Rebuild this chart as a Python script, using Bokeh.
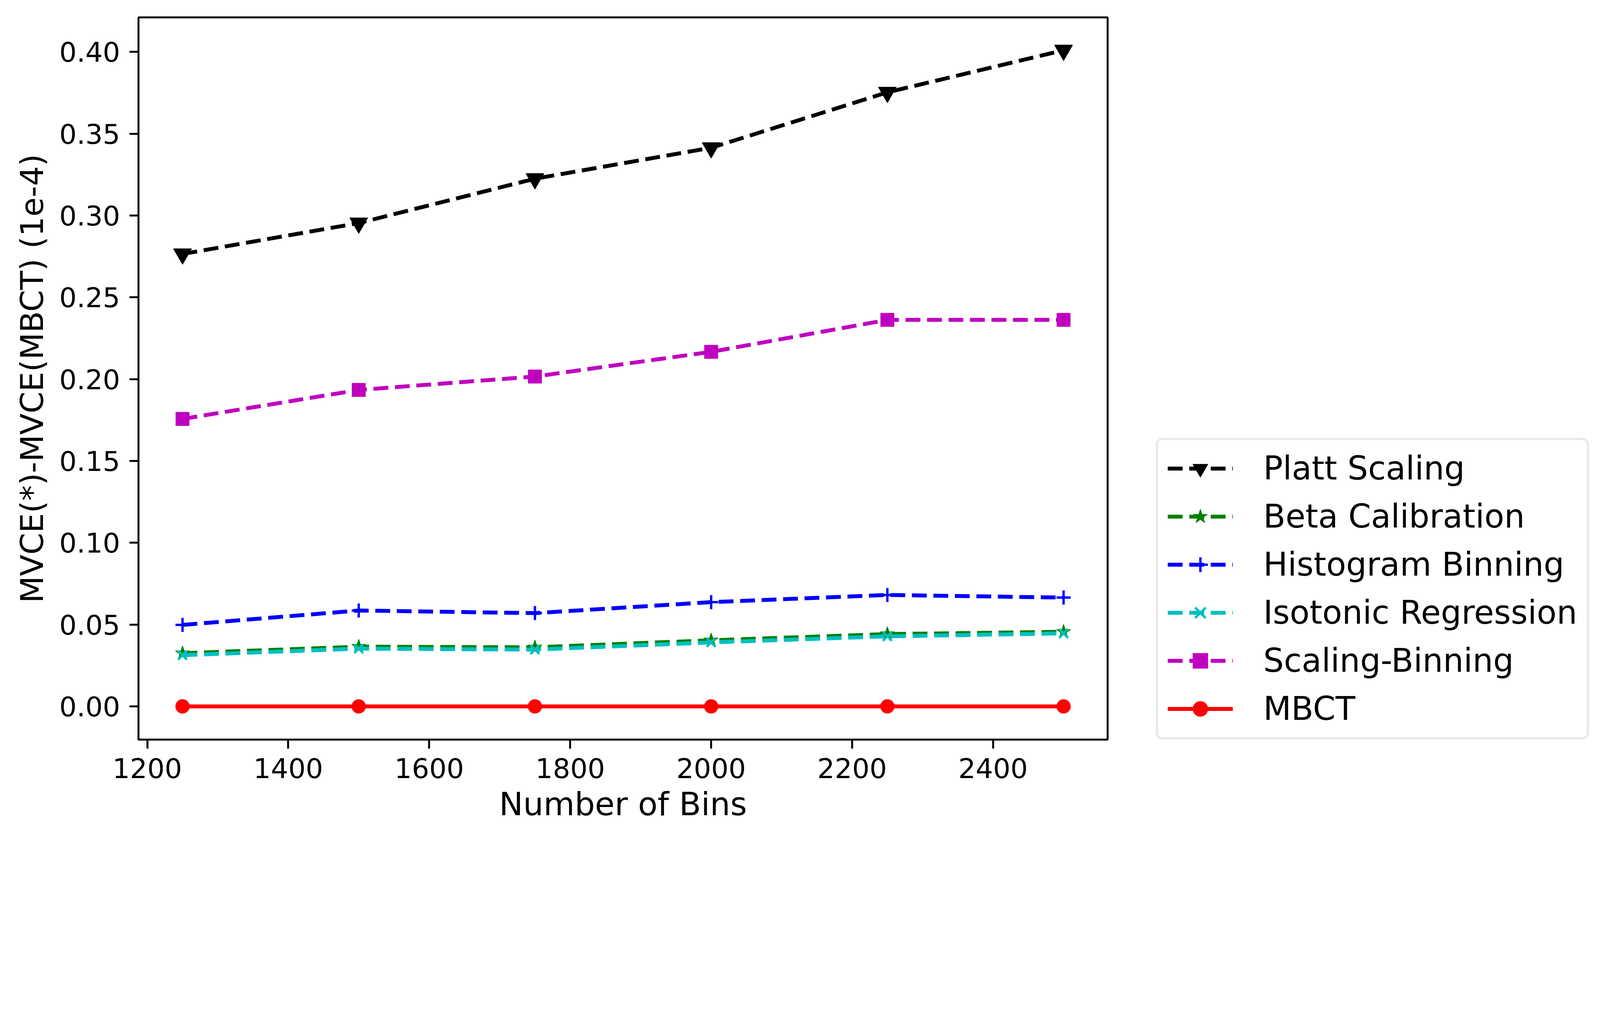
from bokeh.plotting import figure
from bokeh.models import Range1d, FixedTicker, NumeralTickFormatter, Legend, LegendItem
from bokeh.embed import file_html
from bokeh.resources import INLINE

bins = [1250, 1500, 1750, 2000, 2250, 2500]
platt = [0.2765, 0.2954, 0.3225, 0.3414, 0.3753, 0.4010]
beta = [0.0325, 0.0365, 0.0361, 0.0404, 0.0442, 0.0456]
histogram = [0.0498, 0.0586, 0.0570, 0.0637, 0.0681, 0.0665]
isotonic = [0.0313, 0.0353, 0.0347, 0.0391, 0.0428, 0.0446]
scaling_binning = [0.1757, 0.1934, 0.2016, 0.2167, 0.2362, 0.2362]
mbct = [0.0, 0.0, 0.0, 0.0, 0.0, 0.0]

x_ticks = [1200, 1400, 1600, 1800, 2000, 2200, 2400]
y_ticks = [0.0, 0.05, 0.10, 0.15, 0.20, 0.25, 0.30, 0.35, 0.40]

FONT = "DejaVu Sans"

FRAME_L, FRAME_T, FRAME_W, FRAME_H = 354, 44, 2481, 1848
FIG_W, FIG_H = 4111, 2159

p = figure(width=FIG_W, height=FIG_H, output_backend="svg", toolbar_location=None,
           x_range=Range1d(1187.5, 2562.5), y_range=Range1d(-0.0203, 0.4211),
           frame_width=FRAME_W, frame_height=FRAME_H,
           min_border_left=FRAME_L, min_border_top=FRAME_T,
           min_border_right=FIG_W - FRAME_L - FRAME_W,
           min_border_bottom=FIG_H - FRAME_T - FRAME_H)

p.xgrid.visible = False
p.ygrid.visible = False
p.outline_line_color = "black"
p.outline_line_width = 5

for ax in (p.xaxis[0], p.yaxis[0]):
    ax.axis_line_width = 5
    ax.major_tick_line_width = 5
    ax.major_tick_out = 23
    ax.major_tick_in = 0
    ax.minor_tick_line_color = None
    ax.major_label_text_font = FONT
    ax.major_label_text_font_size = "70px"
    ax.major_label_text_color = "black"
    ax.axis_label_text_font = FONT
    ax.axis_label_text_font_style = "normal"
    ax.axis_label_text_color = "black"
    ax.major_label_standoff = 24

p.xaxis.axis_label_text_font_size = "82px"
p.yaxis.axis_label_text_font_size = "80px"
p.xaxis.ticker = FixedTicker(ticks=x_ticks)
p.yaxis.ticker = FixedTicker(ticks=y_ticks)
p.yaxis.formatter = NumeralTickFormatter(format="0.00")
p.xaxis.axis_label = "Number of Bins"
p.yaxis.axis_label = "MVCE(*)-MVCE(MBCT) (1e-4)"
p.xaxis.axis_label_standoff = 16
p.yaxis.axis_label_standoff = 20

DASH = "38 17"
LW = 10

series = [
    ("Platt Scaling", platt, "#000000", "inverted_triangle", 46, DASH),
    ("Beta Calibration", beta, "#008000", "star", 38, DASH),
    ("Histogram Binning", histogram, "#0000ff", "cross", 36, DASH),
    ("Isotonic Regression", isotonic, "#00bfbf", "x", 32, DASH),
    ("Scaling-Binning", scaling_binning, "#bf00bf", "square", 34, DASH),
    ("MBCT", mbct, "#ff0000", "circle", 35, "solid"),
]

items = []
for label, ys, color, marker, size, dash in series:
    r1 = p.line(bins, ys, line_color=color, line_width=LW, line_dash=dash)
    if marker in ("cross", "x"):
        r2 = p.scatter(bins, ys, marker=marker, size=size, line_color=color, line_width=6)
    else:
        r2 = p.scatter(bins, ys, marker=marker, size=size, fill_color=color,
                       line_color=color, line_width=1.5)
    items.append(LegendItem(label=label, renderers=[r1, r2]))

legend = Legend(items=items, location=(124, 0))
legend.label_text_font = FONT
legend.label_text_font_size = "83px"
legend.label_text_color = "black"
legend.glyph_width = 167
legend.glyph_height = 95
legend.label_height = 95
legend.label_standoff = 78
legend.spacing = 26
legend.padding = 24
legend.margin = 0
legend.border_line_color = "#d6d6d6"
legend.border_line_width = 6
legend.background_fill_color = "white"
legend.background_fill_alpha = 0.8
try:
    legend.border_radius = 16
except Exception:
    pass
p.add_layout(legend, "right")

open("out.html", "w").write(file_html(p, INLINE))
